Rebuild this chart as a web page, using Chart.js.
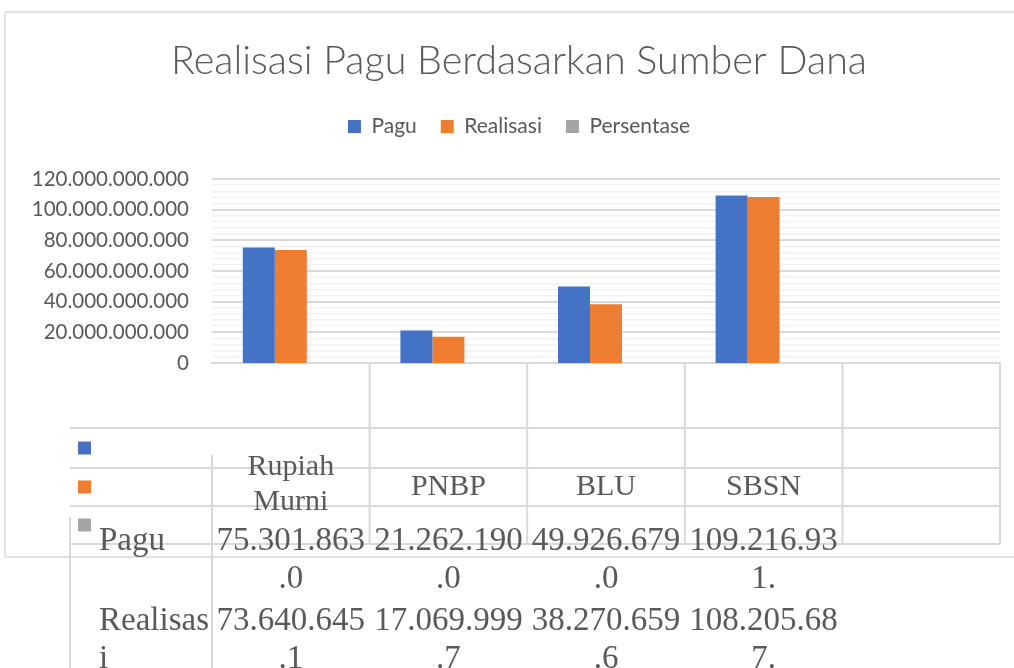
<!DOCTYPE html>
<html><head><meta charset="utf-8">
<script src="https://cdn.jsdelivr.net/npm/chart.js@4"></script>
<style>html,body{margin:0;padding:0;background:#fff;} #wrap{width:1014px;height:668px;position:relative;}</style>
</head><body><div id="wrap"><canvas id="c"></canvas></div>
<script>
// ---- data ----
const chartTitle = 'Realisasi Pagu Berdasarkan Sumber Dana';
const categories = ['Rupiah Murni', 'PNBP', 'BLU', 'SBSN', ''];
const seriesNames = ['Pagu', 'Realisasi', 'Persentase'];
const paguValues = [75301863000, 21262190000, 49926679000, 109216931000, null];
const realisasiValues = [73640645100, 17069999700, 38270659600, 108205687000, null];
const persentaseValues = [97.79, 80.28, 76.65, 99.07, null];
const yMin = 0, yMax = 120000000000, yMinorStep = 4000000000, yMajorStep = 20000000000;

// ---- styles ----
const seriesColors = ['#4472C4', '#ED7D31', '#A5A5A5'];
const GRID = '#d9d9d9', MINOR = '#f2f2f2', TEXT = '#595959';

function fmtId(v) { return String(Math.round(v)).replace(/\B(?=(\d{3})+(?!\d))/g, '.'); }
function wrapChars(ctx, s, maxW) {
  const lines = []; let cur = '';
  for (const ch of s) {
    if (cur && ctx.measureText(cur + ch).width > maxW) { lines.push(cur); cur = ch; } else cur += ch;
  }
  if (cur) lines.push(cur);
  return lines;
}
function wrapWords(ctx, s, maxW) {
  const lines = []; let cur = '';
  for (const w of s.split(' ')) {
    const t = cur ? cur + ' ' + w : w;
    if (cur && ctx.measureText(t).width > maxW) { lines.push(cur); cur = w; } else cur = t;
  }
  if (cur) lines.push(cur);
  return lines;
}

const tablePlugin = {
  id: 'excelTable',
  afterLayout(chart) {
    // let the y tick labels extend left of the (padded) scale box without being clipped
    chart.scales.y.left = 0;
  },
  afterDraw(chart) {
    const { ctx, chartArea: ca, scales: { x } } = chart;
    const n = chart.data.labels.length;
    const colW = (ca.right - ca.left) / n;
    const colLeft = i => x.getPixelForValue(i) - colW / 2;
    const line = (x1, y1, x2, y2) => { ctx.beginPath(); ctx.moveTo(x1, y1); ctx.lineTo(x2, y2); ctx.stroke(); };
    ctx.save();
    ctx.strokeStyle = GRID;
    // outer chart frame
    ctx.lineWidth = 1.5;
    line(5, 12, 1014, 12); line(5, 12, 5, 557); line(5, 557, 1014, 557);
    ctx.lineWidth = 2;
    // upper data-table grid
    const rowYs = [428, 468, 506, 544];
    rowYs.forEach(y => line(70, y, ca.right, y));
    for (let i = 1; i <= n; i++) {
      const bx = i < n ? colLeft(i) : ca.right;
      line(bx, ca.bottom, bx, 544);
    }
    // legend keys in table
    chart.data.datasets.forEach((ds, k) => {
      ctx.fillStyle = ds.backgroundColor;
      const cy = (rowYs[k] + rowYs[k + 1]) / 2;
      ctx.fillRect(78, cy - 6.5, 13, 13);
    });
    // lower (displaced) table lines
    line(ca.left, 455, ca.left, 668);
    line(70, 517, 70, 668);
    // texts, clipped
    ctx.beginPath(); ctx.rect(0, 455, 1014, 213); ctx.clip();
    ctx.fillStyle = TEXT; ctx.textBaseline = 'alphabetic'; ctx.textAlign = 'center';
    ctx.font = '30px "Liberation Serif"';
    for (let i = 0; i < n; i++) {
      const lab = chart.data.labels[i];
      if (!lab) continue;
      const cx = x.getPixelForValue(i);
      const ls = wrapWords(ctx, lab, colW - 10);
      const y0 = 495 - (ls.length - 1) * 20;
      ls.forEach((t, j) => ctx.fillText(t, cx, y0 + j * 35));
    }
    ctx.font = '33px "Liberation Serif"';
    chart.data.datasets.forEach((ds, k) => {
      const yb = 550 + k * 80;
      ctx.textAlign = 'left';
      wrapChars(ctx, ds.label, 113).forEach((t, j) => ctx.fillText(t, 99, yb + j * 38));
      ctx.textAlign = 'center';
      ds.data.forEach((v, i) => {
        if (v == null) return;
        const ls = wrapChars(ctx, fmtId(v), colW - 4);
        const shown = [ls[0], (ls[1] || '').slice(0, 2)];
        shown.forEach((t, j) => ctx.fillText(t, x.getPixelForValue(i), yb + j * 38));
      });
    });
    ctx.restore();
  }
};

const seriesData = [paguValues, realisasiValues, persentaseValues];
const isMajor = c => c.tick && Math.round(c.tick.value) % yMajorStep === 0;

new Chart(document.getElementById('c'), {
  type: 'bar',
  data: {
    labels: categories,
    datasets: seriesNames.map((name, k) => ({
      label: name, data: seriesData[k], backgroundColor: seriesColors[k],
      borderWidth: 0, inflateAmount: 0, categoryPercentage: 0.609, barPercentage: 1
    }))
  },
  options: {
    responsive: true, maintainAspectRatio: false, animation: false, devicePixelRatio: 1,
    layout: { padding: { top: 12, left: 38, right: 14, bottom: 0 } },
    plugins: {
      title: { display: true, text: chartTitle, color: TEXT,
        font: { family: 'Lato', size: 39.5, weight: '300', lineHeight: 1.2 },
        padding: { top: 25.8, bottom: 6.8 } },
      subtitle: { display: true, text: ' ', position: 'top', weight: 500,
        font: { size: 10, lineHeight: 1 }, padding: { top: 0, bottom: 22 } },
      legend: { position: 'top',
        labels: { boxWidth: 13, boxHeight: 13, padding: 24, color: TEXT, font: { family: 'Lato', size: 21 } } },
      tooltip: { enabled: false }
    },
    scales: {
      x: { grid: { display: false }, border: { display: true, color: GRID, width: 2 }, ticks: { display: false },
        afterFit(s) { s.height = 305; } },
      y: { min: yMin, max: yMax,
        ticks: { stepSize: yMinorStep, autoSkip: false, padding: 23, color: TEXT,
          font: { family: 'Lato', size: 20.5 },
          callback: v => (Math.round(v) % yMajorStep === 0 ? fmtId(v) : '') },
        grid: { drawTicks: false, color: c => isMajor(c) ? GRID : MINOR,
          lineWidth: c => (c.tick && c.tick.value === 0) ? 0 : (isMajor(c) ? 2 : 1.5) },
        border: { display: false },
        afterFit(s) { s.width = 174; } }
    }
  },
  plugins: [tablePlugin]
});
</script>
</body></html>
